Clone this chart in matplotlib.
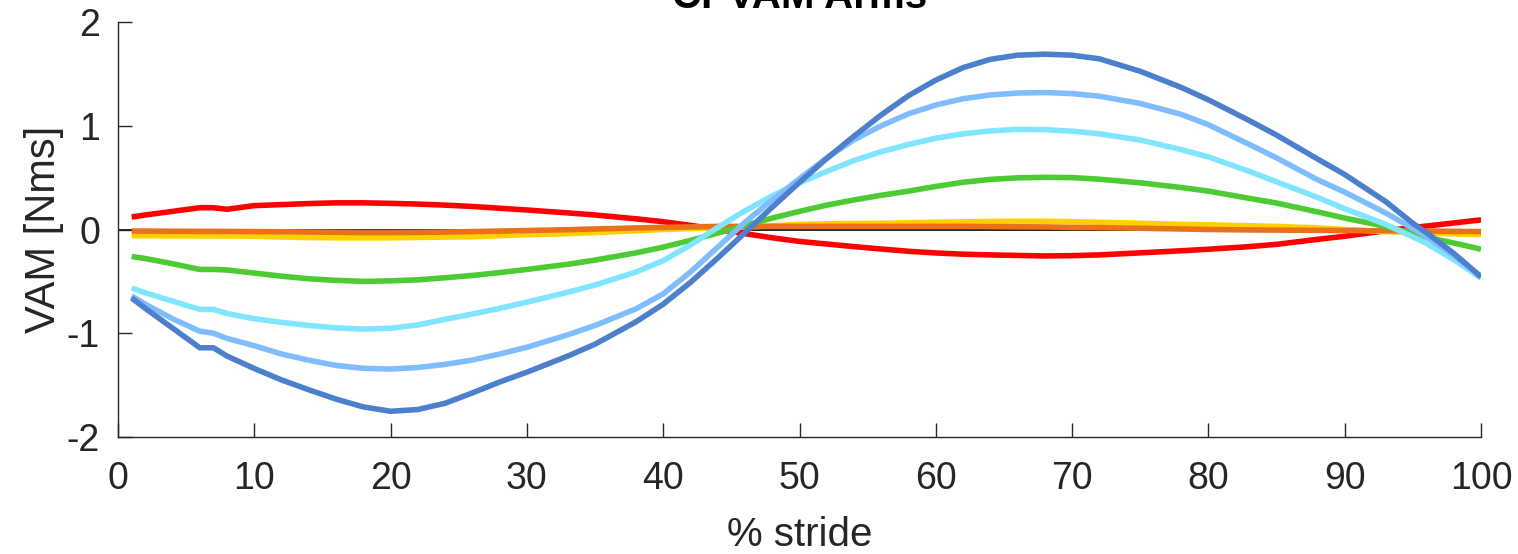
import matplotlib
matplotlib.use("Agg")
import matplotlib.pyplot as plt

plt.rcParams['font.family'] = ['Liberation Sans', 'DejaVu Sans']

# % stride sample positions
x = [1, 2, 4, 6, 7, 8, 10, 12, 14, 16, 18, 20, 22, 24, 26, 28, 30, 33, 35, 38,
     40, 42, 44, 46, 48, 50, 52, 54, 56, 58, 60, 62, 64, 66, 68, 70, 72, 75, 78,
     80, 83, 85, 88, 90, 93, 95, 96, 98, 100]

red = [0.12, 0.14, 0.175, 0.21, 0.21, 0.195, 0.23, 0.24, 0.25, 0.257, 0.257, 0.252,
       0.245, 0.235, 0.222, 0.205, 0.188, 0.16, 0.14, 0.103,
       0.075, 0.04, 0.0, -0.04, -0.08, -0.115, -0.14, -0.165, -0.188, -0.21, -0.226,
       -0.238, -0.245, -0.25, -0.255, -0.252, -0.245, -0.225, -0.205,
       -0.19, -0.165, -0.143, -0.095, -0.065, -0.012, 0.02, 0.033, 0.063, 0.093]

orange = [-0.015, -0.015, -0.017, -0.018, -0.018, -0.019, -0.02, -0.022, -0.025, -0.027,
          -0.03, -0.03, -0.028, -0.025, -0.02, -0.015, -0.01, -0.002, 0.005, 0.015,
          0.02, 0.025, 0.03, 0.03, 0.03, 0.03, 0.03, 0.03, 0.03, 0.03, 0.03,
          0.03, 0.028, 0.026, 0.025, 0.02, 0.018, 0.012, 0.005,
          0.0, -0.004, -0.006, -0.008, -0.01, -0.012, -0.014, -0.015, -0.018, -0.02]

yellow = [-0.06, -0.06, -0.061, -0.062, -0.062, -0.063, -0.065, -0.072, -0.078, -0.08,
          -0.08, -0.08, -0.077, -0.073, -0.07, -0.06, -0.05, -0.04, -0.03, -0.012,
          0.0, 0.008, 0.016, 0.024, 0.035, 0.05, 0.055, 0.058, 0.06, 0.065, 0.07,
          0.074, 0.077, 0.08, 0.08, 0.075, 0.07, 0.06, 0.05,
          0.045, 0.036, 0.03, 0.015, 0.0, -0.02, -0.03, -0.035, -0.042, -0.05]

green = [-0.26, -0.28, -0.33, -0.385, -0.385, -0.39, -0.42, -0.45, -0.475, -0.49,
         -0.50, -0.495, -0.485, -0.465, -0.443, -0.415, -0.385, -0.335, -0.295, -0.225,
         -0.17, -0.105, -0.035, 0.04, 0.11, 0.175, 0.235, 0.285, 0.33, 0.37, 0.415,
         0.455, 0.483, 0.498, 0.503, 0.50, 0.485, 0.45, 0.405,
         0.37, 0.30, 0.255, 0.17, 0.11, 0.03, -0.04, -0.075, -0.13, -0.19]

cyan = [-0.565, -0.61, -0.69, -0.77, -0.77, -0.81, -0.86, -0.895, -0.925, -0.948,
        -0.96, -0.952, -0.92, -0.865, -0.815, -0.76, -0.70, -0.605, -0.535, -0.41,
        -0.30, -0.15, 0.02, 0.18, 0.325, 0.45, 0.56, 0.665, 0.75, 0.82, 0.88,
        0.922, 0.95, 0.965, 0.962, 0.948, 0.922, 0.862, 0.77,
        0.70, 0.56, 0.46, 0.31, 0.20, 0.05, -0.07, -0.135, -0.29, -0.47]

lightblue = [-0.64, -0.72, -0.86, -0.98, -1.0, -1.05, -1.12, -1.2, -1.26, -1.31,
             -1.338, -1.345, -1.33, -1.30, -1.258, -1.20, -1.135, -1.015, -0.925, -0.765,
             -0.62, -0.41, -0.17, 0.07, 0.285, 0.49, 0.69, 0.865, 1.0, 1.115, 1.20,
             1.26, 1.297, 1.315, 1.32, 1.31, 1.285, 1.215, 1.11,
             1.01, 0.82, 0.69, 0.48, 0.36, 0.16, 0.01, -0.07, -0.25, -0.455]

darkblue = [-0.66, -0.76, -0.95, -1.14, -1.14, -1.22, -1.34, -1.45, -1.545, -1.635,
            -1.71, -1.752, -1.735, -1.675, -1.575, -1.47, -1.375, -1.22, -1.105, -0.89,
            -0.72, -0.51, -0.275, -0.03, 0.215, 0.455, 0.685, 0.9, 1.105, 1.29, 1.44,
            1.56, 1.64, 1.68, 1.69, 1.68, 1.645, 1.525, 1.37,
            1.25, 1.05, 0.91, 0.68, 0.53, 0.27, 0.06, -0.03, -0.23, -0.455]

series = [
    (red, '#FF0000'),
    (yellow, '#FFD000'),
    (orange, '#EA7119'),
    (green, '#4CCB33'),
    (cyan, '#80E5FF'),
    (lightblue, '#80BDFF'),
    (darkblue, '#4D80CC'),
]

xticks = [0, 10, 20, 30, 40, 50, 60, 70, 80, 90, 100]
yticks = [-2, -1, 0, 1, 2]

fig = plt.figure(figsize=(15.18, 5.54), dpi=100)
ax = fig.add_axes([118 / 1518, 117 / 554, 1363 / 1518, 415 / 554])

ax.plot([0, 100], [0, 0], color='black', lw=1.2, zorder=1)
for vals, col in series:
    ax.plot(x, vals, color=col, lw=4.0, solid_capstyle='butt',
            solid_joinstyle='round', zorder=2)

ax.set_xlim(0, 100)
ax.set_ylim(-2, 2)
ax.set_xticks(xticks)
ax.set_yticks(yticks)
ax.set_xticklabels([str(v) for v in xticks])
ax.set_yticklabels([str(v) for v in yticks])
ax.tick_params(direction='in', length=10, width=1.0, color='#262626',
               labelsize=27, labelcolor='#262626')
ax.tick_params(axis='x', pad=17)
ax.tick_params(axis='y', pad=13)
for s in ['top', 'right']:
    ax.spines[s].set_visible(False)
for s in ['left', 'bottom']:
    ax.spines[s].set_color('#262626')
    ax.spines[s].set_linewidth(1.0)

ax.set_xlabel('% stride', fontsize=29, color='#262626', labelpad=14)
ax.set_ylabel('VAM [Nms]', fontsize=30, color='#262626', labelpad=2)

fig.text(799.5 / 1518, 1 - 8 / 554, 'CPVAM Arms', ha='center', va='baseline',
         fontsize=29, fontweight='bold', color='black')

fig.savefig('out.png', dpi=100)
